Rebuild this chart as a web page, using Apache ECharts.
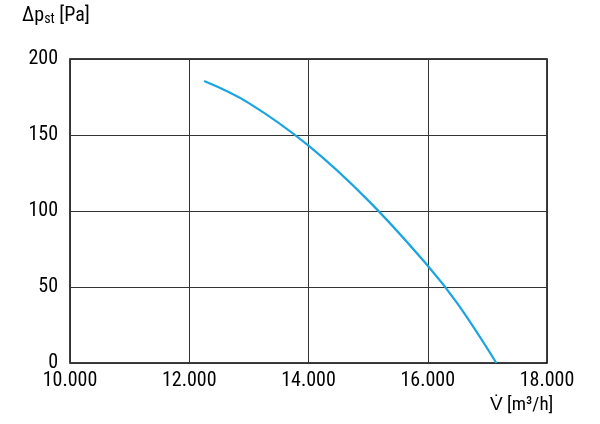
<!DOCTYPE html>
<html><head><meta charset="utf-8">
<script src="https://cdn.jsdelivr.net/npm/echarts@6/dist/echarts.min.js"></script>
<style>html,body{margin:0;padding:0;background:#fff}#c{width:600px;height:424px}</style>
</head><body><div id="c"></div>
<script>
const flowX = [12250, 13000, 14000, 15000, 16000, 16500, 17150];
const pressureY = [185.5, 171, 143, 107, 64, 39, 0];
const xTicks = [10000, 12000, 14000, 16000, 18000];
const yTicks = [0, 50, 100, 150, 200];
const font = '"Liberation Sans Narrow","Roboto Condensed","Liberation Sans",Arial,sans-serif';
const chart = echarts.init(document.getElementById('c'));
chart.setOption({
  animation: false,
  grid: {left: 70, right: 53, top: 59, bottom: 61, show: true, borderColor: '#000', borderWidth: 1.5},
  xAxis: {type: 'value', min: 10000, max: 18000, interval: 2000,
    axisLine: {show: false}, axisTick: {show: false},
    splitLine: {lineStyle: {color: '#333', width: 1}},
    axisLabel: {color: '#000', fontSize: 20, fontFamily: font, margin: 8,
      formatter: v => (v/1000).toFixed(3)}},
  yAxis: {type: 'value', min: 0, max: 200, interval: 50,
    axisLine: {show: false}, axisTick: {show: false},
    splitLine: {lineStyle: {color: '#333', width: 1}},
    axisLabel: {color: '#000', fontSize: 20, fontFamily: font, margin: 12}},
  series: [{type: 'line', data: flowX.map((x, i) => [x, pressureY[i]]), smooth: 0.4,
    symbol: 'none', lineStyle: {color: '#1aa5e0', width: 2.2}}],
  graphic: [
    {type: 'text', left: 22, top: 6, style: {text: '{a|Δp}{b|st}{a| [Pa]}', rich: {
      a: {fontSize: 20, fontFamily: font, fill: '#000'},
      b: {fontSize: 14, fontFamily: font, fill: '#000', padding: [6, 0, 0, 0]}}}},
    {type: 'text', left: 490, top: 396, style: {text: 'V̇ [m³/h]', fontSize: 19, fontFamily: font, fill: '#000'}}
  ]
});
</script></body></html>
